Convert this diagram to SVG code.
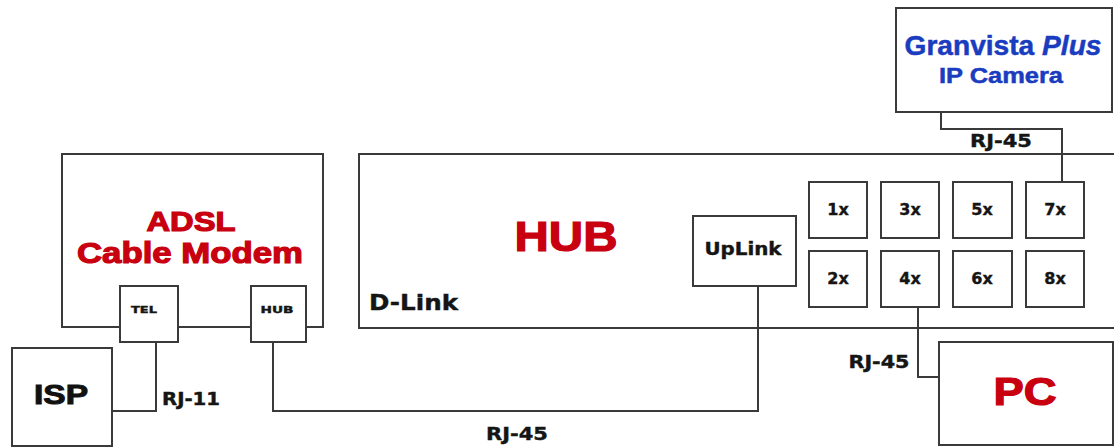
<svg xmlns="http://www.w3.org/2000/svg" width="1114" height="447" viewBox="0 0 1114 447">
<style>
.box{fill:#fff;stroke:#3a3a3a;stroke-width:2}
.wire{fill:none;stroke:#3a3a3a;stroke-width:2}
.big{font-family:"Liberation Sans",Arial,sans-serif;font-weight:bold;fill:#c8000f;stroke:#c8000f;stroke-width:1.2}
.blue{font-family:"Liberation Sans",Arial,sans-serif;font-weight:bold;fill:#1a3cbf;stroke:#1a3cbf;stroke-width:0.5}
.lbl{font-family:"DejaVu Sans",Verdana,sans-serif;font-weight:bold;fill:#151515;stroke:#151515;stroke-width:0.4}
.blk{font-family:"Liberation Sans",Arial,sans-serif;font-weight:bold;fill:#111;stroke:#111;stroke-width:1}
</style>
<rect width="1114" height="447" fill="#fff"/>
<g id="modem">
<rect class="box" x="62" y="154" width="261" height="173"/>
<text class="big" x="191" y="231" font-size="28" text-anchor="middle" textLength="89" lengthAdjust="spacingAndGlyphs">ADSL</text>
<text class="big" x="190" y="263" font-size="30" text-anchor="middle" textLength="226" lengthAdjust="spacingAndGlyphs">Cable Modem</text>
</g>
<g id="modem-tel">
<rect class="box" x="120" y="286" width="58" height="56"/>
<text class="lbl" x="144" y="313" font-size="9" text-anchor="middle" textLength="26" lengthAdjust="spacingAndGlyphs">TEL</text>
</g>
<g id="modem-hub">
<rect class="box" x="251" y="286" width="55" height="56"/>
<text class="lbl" x="277" y="313" font-size="9" text-anchor="middle" textLength="33" lengthAdjust="spacingAndGlyphs">HUB</text>
</g>
<g id="isp">
<rect class="box" x="12" y="348" width="100" height="98"/>
<text class="blk" x="61" y="404" font-size="27" text-anchor="middle" textLength="54" lengthAdjust="spacingAndGlyphs">ISP</text>
</g>
<g id="hub">
<rect class="box" x="359" y="154" width="770" height="174"/>
<text class="big" x="566" y="251" font-size="42" text-anchor="middle" textLength="103" lengthAdjust="spacingAndGlyphs">HUB</text>
<text class="lbl" x="369" y="310" font-size="21" textLength="89" lengthAdjust="spacingAndGlyphs">D-Link</text>
</g>
<g id="uplink">
<rect class="box" x="693" y="216" width="103" height="70"/>
<text class="lbl" x="743" y="255" font-size="17" text-anchor="middle" textLength="77" lengthAdjust="spacingAndGlyphs">UpLink</text>
</g>
<g id="port1"><rect class="box" x="809" y="182" width="58" height="56"/><text class="lbl" x="838" y="215" font-size="16" text-anchor="middle">1x</text></g>
<g id="port3"><rect class="box" x="881" y="182" width="58" height="56"/><text class="lbl" x="910" y="215" font-size="16" text-anchor="middle">3x</text></g>
<g id="port5"><rect class="box" x="953" y="182" width="59" height="56"/><text class="lbl" x="982" y="215" font-size="16" text-anchor="middle">5x</text></g>
<g id="port7"><rect class="box" x="1026" y="182" width="58" height="56"/><text class="lbl" x="1055" y="215" font-size="16" text-anchor="middle">7x</text></g>
<g id="port2"><rect class="box" x="809" y="251" width="58" height="56"/><text class="lbl" x="838" y="284" font-size="16" text-anchor="middle">2x</text></g>
<g id="port4"><rect class="box" x="881" y="251" width="58" height="56"/><text class="lbl" x="910" y="284" font-size="16" text-anchor="middle">4x</text></g>
<g id="port6"><rect class="box" x="953" y="251" width="59" height="56"/><text class="lbl" x="982" y="284" font-size="16" text-anchor="middle">6x</text></g>
<g id="port8"><rect class="box" x="1026" y="251" width="58" height="56"/><text class="lbl" x="1055" y="284" font-size="16" text-anchor="middle">8x</text></g>
<g id="camera">
<rect class="box" x="896" y="8" width="216" height="104"/>
<text class="blue" x="1003" y="55" font-size="28" text-anchor="middle" textLength="197" lengthAdjust="spacingAndGlyphs">Granvista <tspan font-style="italic">Plus</tspan></text>
<text class="blue" x="1001" y="83" font-size="22" text-anchor="middle" textLength="124" lengthAdjust="spacingAndGlyphs">IP Camera</text>
</g>
<g id="pc">
<rect class="box" x="939" y="342" width="174" height="103"/>
<text class="big" x="1025" y="405" font-size="39" text-anchor="middle" textLength="63" lengthAdjust="spacingAndGlyphs">PC</text>
</g>
<g id="connectors">
<path class="wire" d="M156,342 V411 H112"/>
<path class="wire" d="M273,342 V411 H758 V286"/>
<path class="wire" d="M918,307 V377 H939"/>
<path class="wire" d="M941,112 V129 H1062 V182"/>
<text class="lbl" x="162" y="405" font-size="17" textLength="58" lengthAdjust="spacingAndGlyphs">RJ-11</text>
<text class="lbl" x="517" y="440" font-size="18" text-anchor="middle" textLength="62" lengthAdjust="spacingAndGlyphs">RJ-45</text>
<text class="lbl" x="879" y="368" font-size="17" text-anchor="middle" textLength="61" lengthAdjust="spacingAndGlyphs">RJ-45</text>
<text class="lbl" x="1001" y="147" font-size="18" text-anchor="middle" textLength="62" lengthAdjust="spacingAndGlyphs">RJ-45</text>
</g>
</svg>
